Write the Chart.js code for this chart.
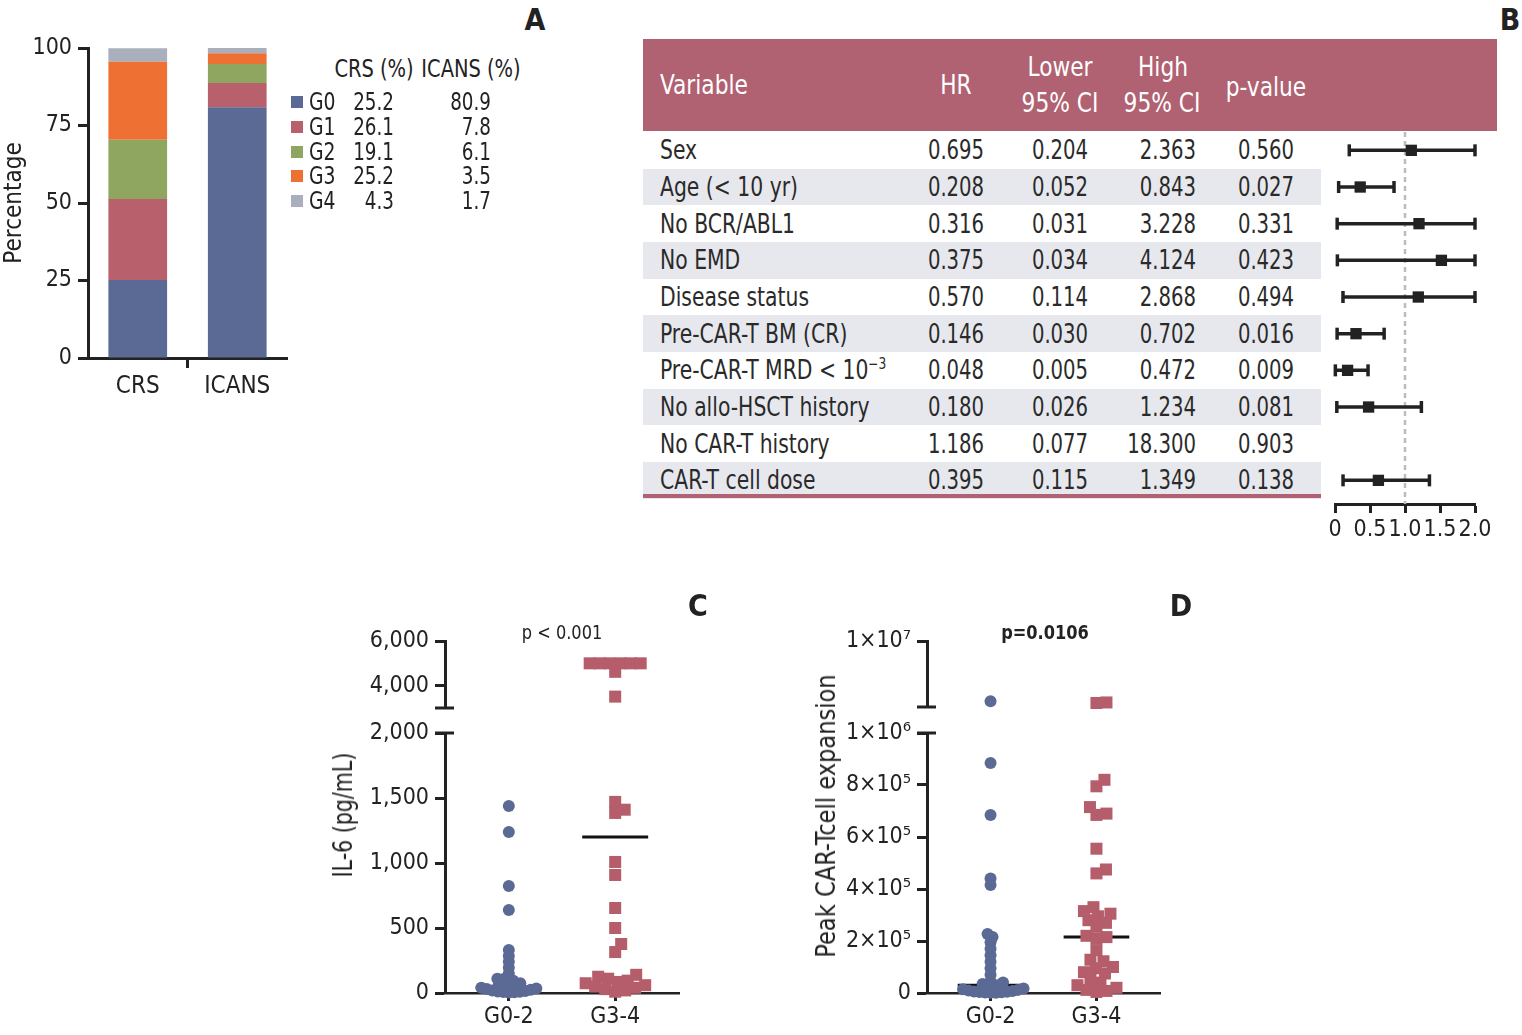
<!DOCTYPE html>
<html>
<head>
<meta charset="utf-8">
<script src="https://cdn.jsdelivr.net/npm/chart.js"></script>
<style>
  html, body { margin: 0; padding: 0; background: #fff; }
  body { width: 1522px; height: 1035px; position: relative; overflow: hidden; color: #222; }
  canvas { position: absolute; }
  .abs { position: absolute; white-space: nowrap; line-height: 1; }
  sup { font-size: 0.6em; vertical-align: 0.7em; }
</style>
</head>
<body>
<canvas id="barA" width="300" height="390" style="left:0;top:20px"></canvas>
<canvas id="forest" width="200" height="440" style="left:1320px;top:110px"></canvas>
<canvas id="il6Top" width="370" height="118" style="left:330px;top:612px"></canvas>
<canvas id="il6Bot" width="370" height="330" style="left:330px;top:705px"></canvas>
<canvas id="peakTop" width="370" height="118" style="left:810px;top:612px"></canvas>
<canvas id="peakBot" width="370" height="330" style="left:810px;top:705px"></canvas>
<script>
// ---- panel A: toxicity grades ----
const grades = ['G0', 'G1', 'G2', 'G3', 'G4'];
const gradeColors = ['#5a6a94', '#b8606b', '#8ea65f', '#ef7033', '#a9afbc'];
const toxCats = ['CRS', 'ICANS'];
const crsPct = [25.2, 26.1, 19.1, 25.2, 4.3];
const icansPct = [80.9, 7.8, 6.1, 3.5, 1.7];

// ---- panel B: multivariate table ----
const variables = ['Sex', 'Age (&lt; 10 yr)', 'No BCR/ABL1', 'No EMD', 'Disease status',
  'Pre-CAR-T BM (CR)', 'Pre-CAR-T MRD &lt; 10<sup>−3</sup>', 'No allo-HSCT history',
  'No CAR-T history', 'CAR-T cell dose'];
const hr = [0.695, 0.208, 0.316, 0.375, 0.570, 0.146, 0.048, 0.180, 1.186, 0.395];
const ciLow = [0.204, 0.052, 0.031, 0.034, 0.114, 0.030, 0.005, 0.026, 0.077, 0.115];
const ciHigh = [2.363, 0.843, 3.228, 4.124, 2.868, 0.702, 0.472, 1.234, 18.300, 1.349];
const pValue = [0.560, 0.027, 0.331, 0.423, 0.494, 0.016, 0.009, 0.081, 0.903, 0.138];
// where the square sits in the forest plot (nothing drawn for CAR-T history)
const forestMark = [1.09, 0.36, 1.20, 1.52, 1.19, 0.30, 0.18, 0.48, null, 0.62];
const forestMax = 2;

// ---- panels C, D ----
const groups = ['G0-2', 'G3-4'];
const il6Low = [1438, 1238, 823, 638, 330, 285, 240, 195, 150, 110, 105, 95, 85, 75, 65, 55,
  50, 45, 40, 35, 30, 25, 20, 15, 12, 10, 8, 5, 3];
const il6High = [5000, 5000, 5000, 5000, 5000, 5000, 4620, 3510, 1470, 1410, 1385, 1008, 908,
  654, 500, 377, 315, 140, 125, 110, 95, 85, 75, 60, 50, 40, 30, 20, 10];
const il6Median = [40, 1200];
const peakLow = [1.8e6, 8.85e5, 6.85e5, 4.4e5, 4.15e5, 2.27e5, 2.15e5, 1.95e5, 1.7e5, 1.45e5,
  1.2e5, 9.5e4, 7e4, 4.5e4, 4e4, 3.5e4, 3e4, 2.5e4, 2e4, 1.7e4, 1.4e4, 1.2e4, 1e4, 8e3, 6e3,
  5e3, 4e3, 3e3, 2e3, 1e3, 500];
const peakHigh = [1.62e6, 1.55e6, 8.2e5, 7.95e5, 7.15e5, 6.9e5, 6.85e5, 5.55e5, 4.75e5, 4.6e5,
  3.3e5, 3.15e5, 3.05e5, 2.95e5, 2.8e5, 2.7e5, 2.55e5, 2.2e5, 2.15e5, 2.1e5, 1.65e5, 1.28e5,
  1.22e5, 1e5, 9.5e4, 8e4, 7.5e4, 5e4, 4e4, 3e4, 2e4, 1.2e4, 8e3, 4e3];
const peakMedian = [3e4, 2.15e5];
const blue = '#5b6a94', red = '#b55d6a', mauve = '#b06272';

// pick the first installed narrow font
function pickFont(names) {
  const c = document.createElement('canvas').getContext('2d');
  const s = 'abcdefghijklmnopqrstuvwxyz0123456789';
  c.font = '40px monospace';
  const base = c.measureText(s).width;
  for (const n of names) {
    c.font = '40px "' + n + '", monospace';
    if (c.measureText(s).width !== base) return n;
  }
  return 'sans-serif';
}
const FONT = '"' + pickFont(['Liberation Sans Narrow', 'DejaVu Sans Condensed', 'Roboto Condensed', 'Roboto']) + '", sans-serif';
document.body.style.fontFamily = FONT;
Chart.defaults.font.family = FONT;
Chart.defaults.color = '#222';

// html text, squeezed sideways to look like the condensed face of the figure
function put(html, x, y, size, anchor, extra) {
  extra = extra || {};
  const d = document.createElement('div');
  d.className = 'abs';
  d.innerHTML = html;
  d.style.left = x + 'px';
  d.style.top = y + 'px';
  d.style.fontSize = size + 'px';
  const ax = anchor === 'l' ? '0' : anchor === 'r' ? '-100%' : '-50%';
  d.style.transformOrigin = (anchor === 'l' ? '0%' : anchor === 'r' ? '100%' : '50%') + ' 50%';
  const sx = extra.sx || 1;
  d.style.transform = 'translate(' + ax + ',-50%)' + (extra.rot ? ' rotate(-90deg)' : '') + ' scaleX(' + sx + ')';
  if (extra.color) d.style.color = extra.color;
  if (extra.bold) d.style.fontWeight = 'bold';
  document.body.appendChild(d);
}
function box(x, y, w, h, color) {
  const d = document.createElement('div');
  d.className = 'abs';
  Object.assign(d.style, { left: x + 'px', top: y + 'px', width: w + 'px', height: h + 'px', background: color });
  document.body.appendChild(d);
}

// panel letters
put('A', 535, 20, 30, 'c', { bold: true });
put('B', 1510, 20, 30, 'c', { bold: true });
put('C', 698, 606, 30, 'c', { bold: true });
put('D', 1181, 606, 30, 'c', { bold: true });

// ---------- A ----------
const axisGrid = { drawOnChartArea: false, tickLength: 10, tickWidth: 3, color: '#222' };
const axisBorder = { width: 3, color: '#222' };
new Chart(document.getElementById('barA'), {
  type: 'bar',
  data: {
    labels: toxCats,
    datasets: grades.map((g, i) => ({
      label: g, data: [crsPct[i], icansPct[i]], backgroundColor: gradeColors[i],
      borderWidth: 0, barPercentage: 0.59, categoryPercentage: 1
    }))
  },
  options: {
    responsive: false, animation: false,
    layout: { padding: { left: 0, top: 28, right: 13, bottom: 0 } },
    plugins: { legend: { display: false }, tooltip: { enabled: false } },
    scales: {
      x: {
        stacked: true, afterFit: s => { s.height = 52; },
        ticks: { font: { size: 24 }, padding: 4 },
        grid: { drawOnChartArea: false, tickLength: 10, tickWidth: 3, color: c => c.index === 1 ? '#222' : 'rgba(0,0,0,0)' },
        border: axisBorder
      },
      y: {
        stacked: true, min: 0, max: 100, afterFit: s => { s.width = 88; },
        ticks: { stepSize: 25, font: { size: 23 }, padding: 6 },
        title: { display: true, text: 'Percentage', font: { size: 24 }, padding: 0 },
        grid: axisGrid, border: axisBorder
      }
    }
  }
});
// legend table of A
put('CRS (%)', 374, 69, 24, 'c', { sx: 0.9 });
put('ICANS (%)', 471, 69, 24, 'c', { sx: 0.9 });
grades.forEach((g, i) => {
  const y = 102 + i * 24.8;
  box(291, y - 6, 12, 12, gradeColors[i]);
  put(g, 309, y, 24, 'l', { sx: 0.87 });
  put(crsPct[i].toFixed(1), 394, y, 24, 'r', { sx: 0.85 });
  put(icansPct[i].toFixed(1), 491, y, 24, 'r', { sx: 0.85 });
});

// ---------- B: table ----------
const ROW = 36.67;
box(643, 39, 854, 92, mauve);
const hw = { color: '#fff', sx: 0.93 };
put('Variable', 660, 85, 26, 'l', hw);
put('HR', 956, 85, 26, 'c', hw);
put('Lower', 1060, 67, 26, 'c', hw);
put('95% CI', 1060, 103, 26, 'c', hw);
put('High', 1163, 67, 26, 'c', hw);
put('95% CI', 1162, 103, 26, 'c', hw);
put('p-value', 1266, 87, 26, 'c', hw);
const txt = { sx: 0.87, color: '#2a2a2a' }, num = { sx: 0.84, color: '#2a2a2a' };
variables.forEach((v, i) => {
  const top = 132 + i * ROW;
  if (i % 2) box(643, top, 678, ROW, '#e7e8ed');
  const cy = top + ROW / 2;
  put(v, 660, cy, 26, 'l', txt);
  put(hr[i].toFixed(3), 956, cy, 26, 'c', num);
  put(ciLow[i].toFixed(3), 1060, cy, 26, 'c', num);
  put(ciHigh[i].toFixed(3), 1196, cy, 26, 'r', num);
  put(pValue[i].toFixed(3), 1266, cy, 26, 'c', num);
});
box(643, 494, 678, 3.5, mauve);

// ---------- B: forest ----------
const rowsSpan = (504 - 132) / ROW;
const forestSets = [{
  data: [{ x: 1, y: 0 }, { x: 1, y: rowsSpan }], showLine: true, borderColor: '#bdbdbd',
  borderWidth: 2.5, borderDash: [5, 4], pointRadius: 0, order: 3
}];
forestMark.forEach((m, i) => {
  if (m === null) return;
  forestSets.push({
    data: [{ x: ciLow[i], y: i + 0.5 }, { x: Math.min(ciHigh[i], forestMax), y: i + 0.5 }],
    showLine: true, borderColor: '#222', borderWidth: 3.5, pointStyle: 'line', pointRotation: 90,
    pointRadius: 6, pointBorderWidth: 3.5, pointBorderColor: '#222', clip: false, order: 2
  });
});
forestSets.push({
  data: forestMark.map((m, i) => m === null ? null : { x: m, y: i + 0.5 }).filter(Boolean),
  pointStyle: 'rect', pointRadius: 8, backgroundColor: '#222', borderWidth: 0, order: 1
});
new Chart(document.getElementById('forest'), {
  type: 'scatter',
  data: { datasets: forestSets },
  options: {
    responsive: false, animation: false,
    layout: { padding: { left: 15, top: 22, right: 45, bottom: 0 } },
    plugins: { legend: { display: false }, tooltip: { enabled: false } },
    scales: {
      x: {
        min: 0, max: forestMax, afterFit: s => { s.height = 46; },
        ticks: { stepSize: 0.5, autoSkip: false, maxRotation: 0, minRotation: 0, font: { size: 23 }, padding: 3,
          callback: v => v === 0 ? '0' : v.toFixed(1) },
        grid: { drawOnChartArea: false, tickLength: 9, tickWidth: 3, color: '#222' },
        border: axisBorder
      },
      y: { display: false, reverse: true, min: 0, max: rowsSpan }
    }
  }
});

// ---------- C, D: broken-axis dot plots ----------
function swarm(vals, pxPerY, pxPerX, dist) {
  const idx = vals.map((v, i) => i).sort((a, b) => vals[a] - vals[b]);
  const placed = [], off = [];
  idx.forEach(i => {
    const y = vals[i] * pxPerY;
    let dx = 0;
    for (let k = 0; k < 300; k++) {
      dx = (k % 2 ? 1 : -1) * Math.ceil(k / 2) * 0.5;
      if (placed.every(p => (p.x - dx) ** 2 + (p.y - y) ** 2 >= dist * dist)) break;
    }
    placed.push({ x: dx, y });
    off[i] = dx / pxPerX;
  });
  return off;
}
function breakBar(edge) {
  return {
    id: 'breakBar',
    afterDraw(chart) {
      const a = chart.chartArea, c = chart.ctx;
      const y = edge === 'top' ? a.top : a.bottom;
      c.save();
      c.strokeStyle = '#222';
      c.lineWidth = 3;
      c.beginPath();
      c.moveTo(a.left - 10, y);
      c.lineTo(a.left + 9, y);
      c.stroke();
      c.restore();
    }
  };
}
const sup = { '0': '⁰', '1': '¹', '2': '²', '3': '³', '4': '⁴', '5': '⁵', '6': '⁶', '7': '⁷', '8': '⁸', '9': '⁹' };
function sci(v) {
  if (!v) return '0';
  const e = Math.floor(Math.log10(v) + 1e-9);
  return Math.round(v / 10 ** e) + '×10' + String(e).split('').map(d => sup[d]).join('');
}

// one segment of a broken y axis: canvas box, chart area, y range, ticks, x axis shown or not
function segChart(seg, lowVals, highVals, medians, fmt) {
  const a = seg.area, b = seg.box;
  const pxY = (a.bottom - a.top) / (seg.max - seg.min);
  const pxX = (a.right - a.left) / 2.2;
  const sets = [];
  [lowVals, highVals].forEach((vals, g) => {
    const v = vals.filter(x => seg.showX ? x <= seg.max : x > seg.min);
    const off = swarm(v.map(x => x - seg.min), pxY, pxX, g ? 10 : 5.5);
    sets.push({
      data: v.map((y, i) => ({ x: g + off[i], y })),
      pointStyle: g ? 'rect' : 'circle', pointRadius: g ? 8.5 : 6,
      backgroundColor: g ? red : blue, borderWidth: 0, clip: false, order: 1
    });
    if (medians[g] >= seg.min && medians[g] <= seg.max) {
      sets.push({
        data: [{ x: g - 0.31, y: medians[g] }, { x: g + 0.31, y: medians[g] }], showLine: true,
        borderColor: '#111', borderWidth: 3, pointRadius: 0, order: 5
      });
    }
  });
  const xAxis = {
    type: 'linear', min: -0.6, max: 1.6, display: seg.showX,
    afterBuildTicks: s => { s.ticks = [{ value: 0 }, { value: 1 }]; },
    ticks: { callback: v => groups[v], padding: 2, font: { size: 23 } },
    grid: { drawOnChartArea: false, tickLength: 8, tickWidth: 3, color: '#222' },
    border: { width: 2.5, color: '#222' }
  };
  if (seg.showX) xAxis.afterFit = s => { s.height = b.y + b.h - a.bottom; };
  return new Chart(document.getElementById(seg.id), {
    type: 'scatter',
    data: { datasets: sets },
    options: {
      responsive: false, animation: false,
      layout: { padding: { left: 0, top: a.top - b.y, right: b.x + b.w - a.right, bottom: seg.showX ? 0 : b.y + b.h - a.bottom } },
      plugins: { legend: { display: false }, tooltip: { enabled: false } },
      scales: {
        x: xAxis,
        y: {
          min: seg.min, max: seg.max,
          afterBuildTicks: s => { s.ticks = seg.ticks.map(v => ({ value: v })); },
          afterFit: s => { s.width = a.left - b.x; },
          ticks: { callback: fmt, padding: 6, font: { size: 23 } },
          grid: axisGrid, border: axisBorder
        }
      }
    },
    plugins: [breakBar(seg.brk)]
  });
}
const fmtThousands = v => v.toLocaleString('en-US');
segChart({ id: 'il6Top', box: { x: 330, y: 612, w: 370, h: 118 }, area: { left: 445, right: 679, top: 641, bottom: 708 },
  min: 3000, max: 6000, ticks: [4000, 6000], showX: false, brk: 'bottom' }, il6Low, il6High, il6Median, fmtThousands);
segChart({ id: 'il6Bot', box: { x: 330, y: 705, w: 370, h: 330 }, area: { left: 445, right: 679, top: 733, bottom: 993 },
  min: 0, max: 2000, ticks: [0, 500, 1000, 1500, 2000], showX: true, brk: 'top' }, il6Low, il6High, il6Median, fmtThousands);
segChart({ id: 'peakTop', box: { x: 810, y: 612, w: 370, h: 118 }, area: { left: 927, right: 1160, top: 641, bottom: 707 },
  min: 1e6, max: 1e7, ticks: [1e7], showX: false, brk: 'bottom' }, peakLow, peakHigh, peakMedian, sci);
segChart({ id: 'peakBot', box: { x: 810, y: 705, w: 370, h: 330 }, area: { left: 927, right: 1160, top: 733, bottom: 993 },
  min: 0, max: 1e6, ticks: [0, 2e5, 4e5, 6e5, 8e5, 1e6], showX: true, brk: 'top' }, peakLow, peakHigh, peakMedian, sci);

put('IL-6 (pg/mL)', 343, 815, 26, 'c', { rot: true, sx: 0.88 });
put('Peak CAR-Tcell expansion', 826, 816, 26, 'c', { rot: true, sx: 0.965 });
put('p &lt; 0.001', 562, 632, 20, 'c', { sx: 0.9 });
put('p=0.0106', 1045, 632, 20, 'c', { bold: true, sx: 0.9 });
</script>
</body>
</html>
